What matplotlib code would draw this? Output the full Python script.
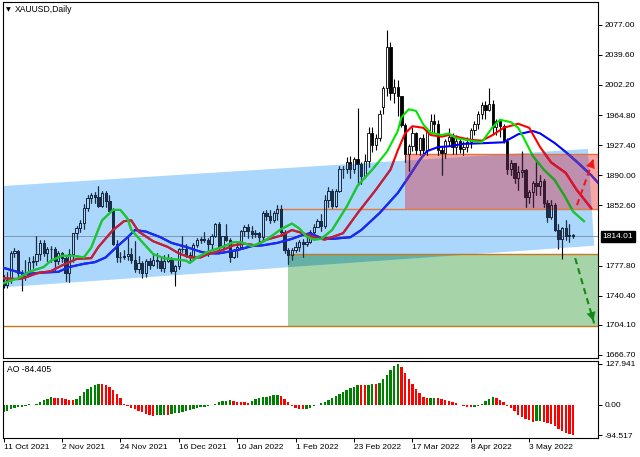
import matplotlib
matplotlib.use("Agg")
import matplotlib.pyplot as plt
from matplotlib.patches import Polygon, Rectangle
from matplotlib.transforms import blended_transform_factory

plt.rcParams['font.family'] = ['Liberation Sans', 'DejaVu Sans']

# XAUUSD daily bars, index 0 = 11 Oct 2021 ... index 156 = 19 May 2022
opens = [1757, 1754, 1760, 1793, 1796, 1768, 1765, 1769, 1782, 1783,
         1792, 1806, 1793, 1798, 1799, 1783, 1793, 1787, 1769, 1792,
         1818, 1824, 1831, 1849, 1862, 1865, 1863, 1852, 1868, 1858,
         1846, 1805, 1788, 1789, 1790, 1792, 1785, 1774, 1781, 1769,
         1783, 1779, 1785, 1783, 1775, 1783, 1787, 1771, 1777, 1799,
         1798, 1791, 1789, 1803, 1809, 1811, 1810, 1805, 1815, 1829,
         1801, 1814, 1810, 1789, 1797, 1801, 1821, 1826, 1821, 1817,
         1818, 1813, 1843, 1839, 1835, 1843, 1848, 1820, 1797, 1791,
         1797, 1801, 1807, 1805, 1807, 1820, 1826, 1833, 1827, 1859,
         1871, 1852, 1871, 1898, 1898, 1906, 1898, 1910, 1904, 1889,
         1908, 1943, 1928, 1936, 1975, 1998, 2050, 1992, 2000, 1988,
         1952, 1917, 1927, 1943, 1921, 1936, 1921, 1944, 1958, 1954,
         1922, 1918, 1933, 1937, 1925, 1932, 1923, 1925, 1931, 1946,
         1954, 1966, 1977, 1971, 1979, 1950, 1958, 1951, 1932, 1898,
         1905, 1886, 1894, 1897, 1863, 1869, 1881, 1877, 1883, 1855,
         1838, 1853, 1822, 1811, 1824, 1815, 1816]
highs = [1766, 1770, 1796, 1800, 1797, 1772, 1785, 1788, 1790, 1814,
         1810, 1810, 1801, 1802, 1801, 1796, 1795, 1791, 1798, 1818,
         1827, 1834, 1854, 1865, 1868, 1869, 1877, 1870, 1870, 1866,
         1849, 1810, 1795, 1797, 1815, 1800, 1808, 1790, 1783, 1786,
         1787, 1793, 1793, 1789, 1791, 1792, 1789, 1778, 1800, 1815,
         1804, 1795, 1806, 1812, 1813, 1820, 1812, 1817, 1831, 1832,
         1815, 1829, 1812, 1799, 1806, 1822, 1828, 1829, 1827, 1822,
         1820, 1845, 1847, 1847, 1845, 1853, 1853, 1822, 1800, 1800,
         1807, 1810, 1811, 1815, 1822, 1829, 1836, 1842, 1865, 1875,
         1873, 1873, 1902, 1902, 1913, 1914, 1913, 1974, 1906, 1917,
         1950, 1950, 1941, 1971, 2001, 2070, 2055, 2010, 2009, 1989,
         1955, 1929, 1950, 1944, 1937, 1941, 1949, 1966, 1966, 1959,
         1926, 1935, 1949, 1943, 1940, 1937, 1933, 1937, 1949, 1958,
         1970, 1981, 1982, 1998, 1983, 1960, 1960, 1954, 1936, 1909,
         1905, 1902, 1920, 1898, 1872, 1883, 1909, 1890, 1885, 1859,
         1859, 1856, 1830, 1826, 1835, 1830, 1817]
lows = [1750, 1750, 1756, 1788, 1761, 1746, 1760, 1765, 1775, 1778,
        1785, 1790, 1783, 1782, 1772, 1780, 1782, 1759, 1758, 1782,
        1811, 1820, 1823, 1845, 1855, 1855, 1850, 1851, 1850, 1845,
        1803, 1782, 1782, 1786, 1785, 1781, 1770, 1769, 1762, 1763,
        1773, 1777, 1775, 1771, 1770, 1782, 1768, 1753, 1773, 1795,
        1788, 1783, 1786, 1801, 1806, 1807, 1790, 1797, 1813, 1799,
        1798, 1808, 1782, 1787, 1788, 1801, 1815, 1812, 1812, 1813,
        1805, 1810, 1834, 1831, 1832, 1834, 1815, 1794, 1780, 1785,
        1795, 1796, 1788, 1802, 1806, 1817, 1826, 1821, 1825, 1850,
        1849, 1850, 1869, 1886, 1893, 1887, 1893, 1878, 1879, 1886,
        1900, 1919, 1922, 1933, 1966, 1989, 1983, 1980, 1964, 1950,
        1906, 1895, 1920, 1916, 1915, 1914, 1915, 1943, 1943, 1915,
        1890, 1912, 1927, 1916, 1917, 1918, 1915, 1919, 1924, 1940,
        1948, 1960, 1960, 1970, 1941, 1940, 1938, 1930, 1891, 1890,
        1880, 1872, 1888, 1850, 1856, 1851, 1866, 1866, 1850, 1832,
        1836, 1821, 1798, 1786, 1810, 1807, 1812]
closes = [1754, 1760, 1793, 1796, 1768, 1765, 1769, 1782, 1783, 1792,
          1806, 1793, 1798, 1799, 1783, 1793, 1787, 1769, 1792, 1818,
          1824, 1831, 1849, 1862, 1865, 1863, 1852, 1868, 1858, 1846,
          1805, 1788, 1789, 1790, 1792, 1785, 1774, 1781, 1769, 1783,
          1779, 1785, 1783, 1775, 1783, 1787, 1771, 1777, 1799, 1798,
          1791, 1789, 1803, 1809, 1811, 1810, 1805, 1815, 1829, 1801,
          1814, 1810, 1789, 1797, 1801, 1821, 1826, 1821, 1817, 1818,
          1813, 1843, 1839, 1835, 1843, 1848, 1820, 1797, 1791, 1797,
          1801, 1807, 1805, 1807, 1820, 1826, 1833, 1827, 1859, 1871,
          1852, 1871, 1898, 1898, 1906, 1898, 1910, 1904, 1889, 1908,
          1943, 1928, 1936, 1966, 1998, 2050, 1992, 2000, 1988, 1952,
          1917, 1927, 1943, 1921, 1936, 1921, 1944, 1958, 1954, 1922,
          1918, 1933, 1937, 1925, 1932, 1923, 1925, 1931, 1946, 1954,
          1966, 1977, 1971, 1979, 1950, 1958, 1951, 1932, 1898, 1905,
          1886, 1894, 1897, 1863, 1869, 1881, 1877, 1883, 1855, 1838,
          1853, 1822, 1811, 1824, 1815, 1816, 1814]

# Awesome Oscillator, one value per bar
ao = [-21, -19, -14, -10.5, -7, -5, -2, 2, 1, 4,
      9, 15, 19, 24, 23, 22, 21, 18, 16, 15,
      18, 28, 40, 50, 57, 63, 67, 66, 63, 56,
      46, 34, 22, 2, -4, -10, -14, -18, -22, -27,
      -30, -33, -32, -31, -30, -31, -29, -26, -24, -21,
      -18, -15, -12, -9, -7, -5, -3, 0.5, 4, 8,
      11, 14, 16, 12, 10, 9, 8, 7.5, 11, 18,
      22, 24, 26, 28, 30, 31, 27, 20, 10, -3,
      -8, -12, -14, -11, -8, -4, -1, 5, 10, 17,
      23, 28, 33, 40, 47, 52, 57, 63, 62, 61,
      63, 66, 65, 70, 80, 95, 110, 122, 127.941, 118,
      100, 82, 66, 50, 37, 26, 21, 21.5, 22, 21,
      18, 15, 12, 8, 5, 1, -4, -5, -6, -5,
      -2, 4, 12, 20, 25.5, 22, 15, 8, -4, -10,
      -20, -30, -38, -44, -47, -52, -50, -49, -54, -56,
      -59, -66, -74, -81, -87, -91, -94.517]

# Alligator lines (already shifted forward)
jaw_idx = [0, 3, 6, 10, 15, 18, 22, 25, 28, 31, 34, 36, 39, 43, 46, 50, 54, 56, 59,
           64, 68, 71, 75, 79, 82, 84, 87, 90, 95, 98, 103, 108, 111, 114, 116, 119,
           122, 126, 132, 137, 141, 145, 147, 151, 154, 157, 161, 164]
jaw_val = [1775, 1771, 1767, 1769, 1770, 1776, 1780, 1782, 1788, 1801, 1813, 1822, 1820,
           1813, 1806, 1801, 1795, 1793, 1793, 1797, 1802, 1803, 1806, 1811, 1816, 1818,
           1812, 1811, 1813, 1822, 1843, 1868, 1888, 1909, 1920, 1925, 1926, 1929, 1930,
           1931, 1941, 1945, 1942, 1930, 1919, 1907, 1890, 1875]
teeth_idx = [0, 4, 6, 9, 13, 16, 20, 24, 26, 30, 33, 35, 37, 41, 45, 48, 51, 54, 56,
             60, 63, 66, 69, 72, 76, 79, 82, 85, 88, 93, 97, 102, 106, 108, 110, 112,
             115, 117, 120, 122, 124, 128, 131, 134, 137, 141, 144, 147, 150, 154, 157, 161]
teeth_val = [1762, 1761, 1763, 1768, 1771, 1778, 1786, 1787, 1801, 1822, 1833, 1834, 1820,
             1808, 1801, 1793, 1788, 1788, 1792, 1797, 1803, 1805, 1803, 1810, 1815, 1822,
             1818, 1813, 1810, 1818, 1843, 1872, 1897, 1921, 1942, 1951, 1949, 1940, 1938,
             1940, 1938, 1934, 1933, 1940, 1949, 1954, 1949, 1925, 1906, 1893, 1872, 1849]
lips_idx = [0, 4, 7, 11, 13, 16, 19, 22, 24, 26, 27, 30, 32, 34, 35, 38, 41, 44, 46,
            50, 51, 53, 56, 60, 63, 65, 68, 71, 73, 76, 79, 81, 83, 85, 87, 90, 94, 97,
            101, 105, 108, 109, 111, 113, 115, 117, 120, 122, 124, 128, 131, 134, 136,
            139, 141, 143, 145, 148, 151, 154, 156, 159]
lips_val = [1756, 1762, 1770, 1776, 1784, 1790, 1790, 1788, 1800, 1823, 1834, 1847, 1847,
            1836, 1822, 1807, 1792, 1787, 1786, 1784, 1781, 1788, 1795, 1801, 1807, 1807,
            1802, 1807, 1813, 1823, 1830, 1824, 1814, 1810, 1811, 1822, 1851, 1877, 1897,
            1919, 1945, 1962, 1972, 1970, 1953, 1943, 1940, 1942, 1936, 1933, 1931, 1950,
            1959, 1956, 1949, 1932, 1914, 1897, 1884, 1862, 1845, 1833]

# drawn objects
channel_idx = [-1, 160.1, 161.8, -1]
channel_val = [1876.4, 1922.7, 1802.5, 1750.5]
sell_zone = (110, 1848.1, 1916.4)
buy_zone = (78, 1702.7, 1792.2)
level_val = [1916.4, 1848.1, 1792.2, 1702.7]
level_from = [110, 75, 78, -1]
level_col = ['#e8703a', '#e47a3c', '#c8781e', '#c8781e']
bid = 1814.01
up_arrow = ((157.1, 1853.0), (161.8, 1913.0))
down_arrow = ((156.6, 1787.0), (161.8, 1706.0))

price_ticks = [2077.0, 2039.6, 2002.2, 1964.8, 1927.4, 1890.0, 1852.6,
               1777.8, 1740.4, 1704.1, 1666.7]
ao_ticks = [127.941, 0.0, -94.517]
ao_tick_labels = ['127.941', '0.00', '-94.517']
date_idx = [0, 16, 32, 48, 64, 80, 96, 112, 128, 144]
date_labels = ['11 Oct 2021', '2 Nov 2021', '24 Nov 2021', '16 Dec 2021', '10 Jan 2022',
               '1 Feb 2022', '23 Feb 2022', '17 Mar 2022', '8 Apr 2022', '3 May 2022']

n = len(closes)
idx = list(range(n))
x_left, x_right = -0.15, 162.85

W, H = 640.0, 457.0


def box(l, t, r, b):
    return [l / W, 1 - b / H, (r - l) / W, (b - t) / H]


fig = plt.figure(figsize=(6.4, 4.57), dpi=100)
ax = fig.add_axes(box(3, 2, 598, 358))
ax2 = fig.add_axes(box(3, 361, 598, 438))

# zones and channel
pink = Rectangle((sell_zone[0], sell_zone[1]), x_right - sell_zone[0],
                 sell_zone[2] - sell_zone[1], facecolor='#f6a7a4', edgecolor='none', zorder=0.5)
ax.add_patch(pink)
green = Rectangle((buy_zone[0], buy_zone[1]), x_right - buy_zone[0],
                  buy_zone[2] - buy_zone[1], facecolor='#a6d4a8', edgecolor='none', zorder=0.5)
ax.add_patch(green)
chan = Polygon(list(zip(channel_idx, channel_val)), closed=True,
               facecolor='#aad7fb', edgecolor='none', zorder=0.6)
ax.add_patch(chan)
mauve = Rectangle((sell_zone[0], sell_zone[1]), x_right - sell_zone[0],
                  sell_zone[2] - sell_zone[1], facecolor='#bf8fae', edgecolor='none', zorder=0.7)
ax.add_patch(mauve)
mauve.set_clip_path(chan)
teal = Rectangle((buy_zone[0], buy_zone[1]), x_right - buy_zone[0],
                 buy_zone[2] - buy_zone[1], facecolor='#66b1a6', edgecolor='none', zorder=0.7)
ax.add_patch(teal)
teal.set_clip_path(chan)

for v, x0, c in zip(level_val, level_from, level_col):
    ax.hlines(v, x0, x_right, color=c, lw=1.0, zorder=1.0)
ax.axhline(bid, color='#8797aa', lw=0.7, zorder=1.5)


# candles
def draw_candles(col, clip=None, z=2.0):
    tops = [max(o, c) for o, c in zip(opens, closes)]
    bots = [min(o, c) for o, c in zip(opens, closes)]
    arts = [ax.vlines(idx, tops, highs, color=col, lw=0.8, zorder=z),
            ax.vlines(idx, lows, bots, color=col, lw=0.8, zorder=z)]
    face = ['none' if c > o else col for o, c in zip(opens, closes)]
    hts = [max(t - b, 0.4) for t, b in zip(tops, bots)]
    bars = ax.bar(idx, hts, bottom=bots, width=0.62, color=face, edgecolor=col,
                  linewidth=0.6, zorder=z)
    arts += list(bars)
    if clip is not None:
        for a in arts:
            a.set_clip_path(clip)


draw_candles('black')
draw_candles('#1c2f4a', chan, 2.1)
draw_candles('#3a1a30', mauve, 2.2)

# alligator
lines = [(jaw_idx, jaw_val, ('#0000ff', '#1a2cf0', '#5a30b4')),
         (teeth_idx, teeth_val, ('#ff0000', '#b8243f', '#d81530')),
         (lips_idx, lips_val, ('#00e600', '#22c03c', '#2e9a2a'))]
for k, (xs, ys, cols) in enumerate(lines):
    z = 3 + k * 0.3
    ax.plot(xs, ys, color=cols[0], lw=1.5, zorder=z)
    l1, = ax.plot(xs, ys, color=cols[1], lw=1.5, zorder=z + 0.1)
    l1.set_clip_path(chan)
    l2, = ax.plot(xs, ys, color=cols[2], lw=1.5, zorder=z + 0.2)
    l2.set_clip_path(pink)

# forecast arrows
for (p0, p1), col in [(up_arrow, '#f01818'), (down_arrow, '#138a13')]:
    ax.plot([p0[0], p1[0]], [p0[1], p1[1]], color=col, lw=1.5,
            linestyle=(0, (3, 2)), zorder=5)
    mid = (p0[0] + (p1[0] - p0[0]) * 0.8, p0[1] + (p1[1] - p0[1]) * 0.8)
    ax.annotate('', xy=p1, xytext=mid,
                arrowprops=dict(arrowstyle='-|>,head_length=0.6,head_width=0.32',
                                color=col, lw=0.1, mutation_scale=10), zorder=5)

ax.set_xlim(x_left, x_right)
ax.set_ylim(1662.97, 2105.3)
ax.set_xticks([])
ax.yaxis.tick_right()
ax.set_yticks(price_ticks)
ax.set_yticklabels(['%.2f' % v for v in price_ticks])
ax.tick_params(axis='y', direction='out', length=3, width=0.7, labelsize=6, pad=2)

trans = blended_transform_factory(ax.transAxes, ax.transData)
ax.text(1.008, bid, '%.2f' % bid, transform=trans, color='white', fontsize=6,
        va='center', ha='left', zorder=10,
        bbox=dict(facecolor='black', edgecolor='black', pad=1.3))

# AO histogram
ao_col = ['#008000' if i == 0 or ao[i] > ao[i - 1] else '#ff0000' for i in range(n)]
ax2.bar(idx, ao, width=0.65, color=ao_col, linewidth=0)
ax2.set_xlim(x_left, x_right)
ax2.set_ylim(-103, 137.3)
ax2.yaxis.tick_right()
ax2.set_yticks(ao_ticks)
ax2.set_yticklabels(ao_tick_labels)
ax2.tick_params(axis='y', direction='out', length=3, width=0.7, labelsize=6, pad=2)
ax2.set_xticks(date_idx)
ax2.set_xticklabels(date_labels, ha='left')
ax2.tick_params(axis='x', direction='out', length=3, width=0.7, labelsize=6, pad=1.5)

for a in (ax, ax2):
    for s in a.spines.values():
        s.set_linewidth(0.8)
        s.set_color('black')

fig.text(6 / W, 1 - 10 / H, '\u25bc', fontsize=4.5, va='center', ha='left',
         family='DejaVu Sans')
fig.text(15 / W, 1 - 10 / H, 'XAUUSD,Daily', fontsize=6.2, va='center', ha='left')
fig.text(7 / W, 1 - 369 / H, 'AO -84.405', fontsize=6.2, va='center', ha='left')

fig.savefig('out.png', dpi=100)
